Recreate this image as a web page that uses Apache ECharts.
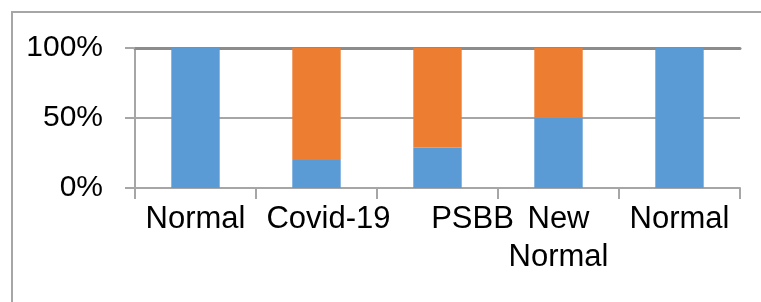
<!DOCTYPE html>
<html style="height:100%;">
<head>
    <meta charset="utf-8">
    <script src="https://cdn.jsdelivr.net/npm/echarts@6/dist/echarts.min.js"></script>
</head>
<body style="height:100%;margin:0;background:#fff;">
    <div id="main" style="width:761px;height:302px;"></div>
</body>
</html>
<script>
    // phases
    var categories = ['Normal', 'Covid-19', 'PSBB', 'New Normal', 'Normal'];
    // share in percent
    var blueValues = [100, 20, 29, 50, 100];
    var orangeValues = [0, 80, 71, 50, 0];
    var yTicks = [0, 50, 100];

    var myChart = echarts.init(document.getElementById('main'));
    var font = '"Liberation Sans", Arial, sans-serif';

    // some labels sit off-centre to the right in the original
    var labelShift = {'Covid-19': 24, 'PSBB': 70};
    var xData = categories.map(function (c) {
        if (labelShift[c]) return {value: c, textStyle: {padding: [0, 0, 0, labelShift[c]]}};
        return c;
    });

    var option = {
        animation: false,
        textStyle: {fontFamily: font},
        grid: {left: 135, right: 21, top: 48, bottom: 114},
        // frame round the chart (top and left edges only visible)
        graphic: [{
            type: 'polyline',
            shape: {points: [[12, 302], [12, 12], [761, 12]]},
            style: {stroke: '#a6a6a6', lineWidth: 2, fill: null}
        }],
        xAxis: [{
            type: 'category',
            data: xData,
            axisLine: {lineStyle: {color: '#a6a6a6', width: 2}},
            axisTick: {show: true, length: 11, lineStyle: {color: '#a6a6a6', width: 2}},
            axisLabel: {
                interval: 0,
                color: '#000', fontSize: 31, fontFamily: font, margin: 12, lineHeight: 38,
                formatter: function (v) { return v.replace(' ', '\n'); }
            }
        }, {
            type: 'category',
            position: 'top',
            data: categories,
            axisLine: {lineStyle: {color: '#8c8c8c', width: 3}},
            axisTick: {show: false},
            axisLabel: {show: false}
        }],
        yAxis: {
            type: 'value',
            min: yTicks[0],
            max: yTicks[yTicks.length - 1],
            interval: yTicks[1] - yTicks[0],
            axisLine: {show: true, lineStyle: {color: '#a6a6a6', width: 2}},
            axisTick: {show: true, length: 10, lineStyle: {color: '#a6a6a6', width: 2}},
            splitLine: {lineStyle: {color: '#a6a6a6', width: 2}},
            axisLabel: {
                color: '#000', fontSize: 30, fontFamily: font, margin: 32,
                formatter: '{value}%'
            }
        },
        series: [
            {
                type: 'bar', stack: 'all', data: blueValues, barWidth: '40%',
                itemStyle: {color: '#5b9bd5'}
            },
            {
                type: 'bar', stack: 'all', data: orangeValues, barWidth: '40%',
                itemStyle: {color: '#ed7d31'}
            }
        ]
    };

    myChart.setOption(option);
</script>
